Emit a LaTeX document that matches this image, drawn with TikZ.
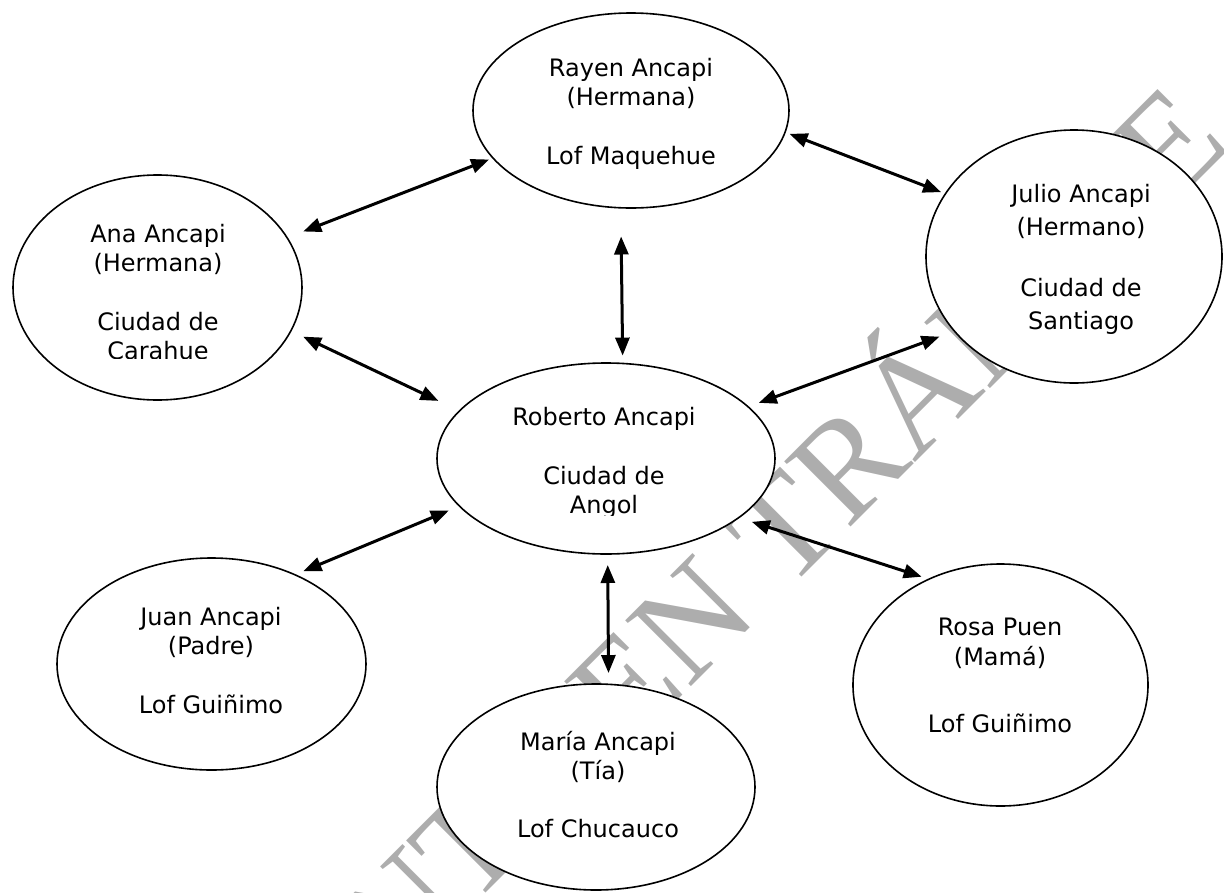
\documentclass[tikz,border=0pt]{standalone}
\usepackage{fontspec}
\setmainfont{DejaVu Sans}
\newfontfamily\wmfont{Liberation Serif}
\usetikzlibrary{shapes.geometric,arrows.meta}
\begin{document}
\begin{tikzpicture}[x=1pt,y=1pt,
  person/.style={ellipse, draw=black, line width=1.6pt, fill=white, inner sep=0pt, outer sep=0pt},
  lbl/.style={anchor=base, inner sep=0pt, outer sep=0pt, font=\fontsize{24}{29}\selectfont},
  conn/.style={line width=3pt, {Triangle[length=18pt,width=14pt]}-{Triangle[length=18pt,width=14pt]}},
  wm/.style={text=black!32, font=\wmfont\fontsize{142}{142}\selectfont, inner sep=0pt, rotate=45, anchor=base}]
\useasboundingbox (0,0) rectangle (1224,-892);
\clip (0,0) rectangle (1224,-892);
% watermark
\node[wm] (mark) at (598,-780.6) {DOCUMENTO EN TRÁMITE};
% ellipses
\node[person, minimum width=316pt, minimum height=195pt] (rayen) at (631,-110.5) {};
\node[person, minimum width=289pt, minimum height=225pt] (ana) at (157.5,-287.5) {};
\node[person, minimum width=338pt, minimum height=191pt] (roberto) at (606,-458.5) {};
\node[person, minimum width=296pt, minimum height=253pt] (julio) at (1074,-256.5) {};
\node[person, minimum width=309pt, minimum height=212pt] (juan) at (211.5,-664) {};
\node[person, minimum width=295pt, minimum height=242pt] (rosa) at (1000.5,-685) {};
\node[person, minimum width=318pt, minimum height=206pt] (maria) at (596,-787) {};
% labels
\node[lbl] (rayenT) at (631,-76) {\begin{tabular}[t]{@{}c@{}}Rayen Ancapi\\(Hermana)\\[30pt]Lof Maquehue\end{tabular}};
\begin{scope}
\clip (0,-170) rectangle (320,-358);
\node[lbl] (anaT) at (158,-242) {\begin{tabular}[t]{@{}c@{}}Ana Ancapi\\(Hermana)\\[30pt]Ciudad de\\Carahue\end{tabular}};
\end{scope}
\begin{scope}
\clip (430,-370) rectangle (780,-515);
\node[lbl] (robertoT) at (604,-425) {\begin{tabular}[t]{@{}c@{}}Roberto Ancapi\\[30pt]Ciudad de\\Angol\end{tabular}};
\end{scope}
\node[lbl] (julioT) at (1081,-202) {\begin{tabular}[t]{@{}c@{}}Julio Ancapi\\[4pt](Hermano)\\[32pt]Ciudad de\\[4pt]Santiago\end{tabular}};
\node[lbl] (juanT) at (211,-625) {\begin{tabular}[t]{@{}c@{}}Juan Ancapi\\(Padre)\\[30pt]Lof Guiñimo\end{tabular}};
\node[lbl] (rosaT) at (1000,-635) {\begin{tabular}[t]{@{}c@{}}Rosa Puen\\[1pt](Mamá)\\[38pt]Lof Guiñimo\end{tabular}};
\node[lbl] (mariaT) at (598,-750) {\begin{tabular}[t]{@{}c@{}}María Ancapi\\(Tía)\\[29pt]Lof Chucauco\end{tabular}};
% connectors
\draw[conn, shorten <=17.3pt, shorten >=4.2pt] (ana.21.95) -- (rayen.199.5);
\draw[conn, shorten <=4.8pt, shorten >=4.7pt] (rayen.352.6) -- (julio.154.7);
\draw[conn, shorten <=28.7pt, shorten >=7.9pt] (rayen.264.7) -- (roberto.80.5);
\draw[conn, shorten <=13.6pt, shorten >=23.3pt] (ana.342) -- (roberto.162.6);
\draw[conn, shorten <=11.4pt, shorten >=16pt] (roberto.20.45) -- (julio.212.45);
\draw[conn, shorten <=9.4pt, shorten >=11.6pt] (juan.47) -- (roberto.198.2);
\draw[conn, shorten <=11pt, shorten >=11.3pt] (roberto.271.2) -- (maria.83.3);
\draw[conn, shorten <=13.7pt, shorten >=7.8pt] (roberto.336) -- (rosa.124.3);
\end{tikzpicture}
\end{document}
